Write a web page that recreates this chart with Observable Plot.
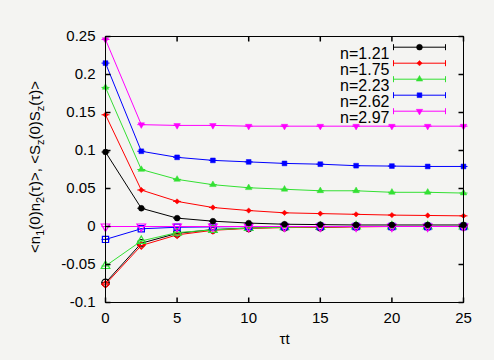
<!DOCTYPE html>
<html>
<head>
<meta charset="utf-8">
<script src="https://cdn.jsdelivr.net/npm/d3@7"></script>
<script src="https://cdn.jsdelivr.net/npm/@observablehq/plot@0.6"></script>
<style>
  html, body { margin: 0; padding: 0; background: #f4f4f2; }
  #chart { width: 494px; height: 360px; }
</style>
</head>
<body>
<div id="chart"></div>
<script>
// ---- data ----
const tau = [0, 2.5, 5, 7.5, 10, 12.5, 15, 17.5, 20, 22.5, 25];
const seriesNames = ["n=1.21", "n=1.75", "n=2.23", "n=2.62", "n=2.97"];
const seriesColors = ["#000000", "#ff0000", "#33e033", "#0000ff", "#ff00ff"];
// upper branch (filled symbols)
const upper121 = [0.098, 0.024, 0.011, 0.007, 0.0045, 0.003, 0.0025, 0.002, 0.002, 0.002, 0.002];
const upper175 = [0.147, 0.048, 0.033, 0.025, 0.021, 0.018, 0.017, 0.016, 0.015, 0.0145, 0.014];
const upper223 = [0.183, 0.075, 0.062, 0.055, 0.051, 0.049, 0.047, 0.047, 0.045, 0.045, 0.044];
const upper262 = [0.215, 0.099, 0.091, 0.087, 0.085, 0.083, 0.082, 0.080, 0.0795, 0.079, 0.079];
const upper297 = [0.246, 0.134, 0.133, 0.133, 0.132, 0.132, 0.132, 0.132, 0.132, 0.132, 0.132];
// lower branch (open symbols)
const lower121 = [-0.074, -0.022, -0.009, -0.004, -0.002, -0.001, -0.001, 0, 0, 0, 0];
const lower175 = [-0.076, -0.025, -0.011, -0.005, -0.0025, -0.0015, -0.001, -0.0005, 0, 0, 0];
const lower223 = [-0.052, -0.019, -0.008, -0.0045, -0.002, -0.001, -0.0005, 0, 0, 0, 0];
const lower262 = [-0.017, -0.003, -0.001, -0.0005, 0, 0, 0, 0, 0, 0, 0];
const lower297 = [0, 0, 0, 0, 0, 0, 0, 0, 0, 0, 0];
const xTicks = [0, 5, 10, 15, 20, 25];
const yTicks = [-0.1, -0.05, 0, 0.05, 0.1, 0.15, 0.2, 0.25];
const xLabel = "τt";

const upperSets = [upper121, upper175, upper223, upper262, upper297];
const lowerSets = [lower121, lower175, lower223, lower262, lower297];

// ---- symbols ----
const sqrt3 = Math.sqrt(3);
const triDown = { draw(ctx, size) {
  const y = -Math.sqrt(size / (sqrt3 * 3));
  ctx.moveTo(0, -y * 2); ctx.lineTo(-sqrt3 * y, y); ctx.lineTo(sqrt3 * y, y); ctx.closePath();
}};
const hcap = { draw(ctx) { ctx.moveTo(-4, 0); ctx.lineTo(4, 0); } };
const legendBar = { draw(ctx) {
  ctx.moveTo(-26, 0); ctx.lineTo(26, 0);
  ctx.moveTo(-26, -3); ctx.lineTo(-26, 3);
  ctx.moveTo(26, -3); ctx.lineTo(26, 3);
}};
const tickRight = { draw(ctx) { ctx.moveTo(0, 0); ctx.lineTo(5, 0); } };
const tickLeft = { draw(ctx) { ctx.moveTo(0, 0); ctx.lineTo(-5, 0); } };
const tickUp = { draw(ctx) { ctx.moveTo(0, 0); ctx.lineTo(0, -5); } };
const tickDown = { draw(ctx) { ctx.moveTo(0, 0); ctx.lineTo(0, 5); } };
const seriesSymbols = ["circle", "diamond2", "triangle", "square", triDown];
const seriesR = [2.9, 2.4, 2.4, 2.7, 2.4];

const rows = [];
seriesNames.forEach((name, i) => {
  tau.forEach((t, j) => {
    rows.push({series: name, i, branch: "upper", t, v: upperSets[i][j]});
    rows.push({series: name, i, branch: "lower", t, v: lowerSets[i][j]});
  });
});

const marks = [];
// lower branch first, then upper
for (const branch of ["lower", "upper"]) {
  seriesNames.forEach((name, i) => {
    const d = rows.filter(r => r.series === name && r.branch === branch);
    const c = seriesColors[i];
    marks.push(Plot.line(d, {x: "t", y: "v", stroke: c, strokeWidth: 1}));
    marks.push(Plot.dot(d, {x: "t", y: "v", symbol: hcap, r: 3, stroke: c, fill: "none", strokeWidth: 1}));
    if (branch === "upper") {
      marks.push(Plot.dot(d, {x: "t", y: "v", symbol: seriesSymbols[i], r: seriesR[i], fill: c, stroke: c, strokeWidth: 0.5}));
    } else {
      marks.push(Plot.dot(d, {x: "t", y: "v", symbol: seriesSymbols[i], r: seriesR[i] + 0.8, fill: "none", stroke: c, strokeWidth: 1.2}));
    }
  });
}

// inward ticks on all four sides
marks.push(Plot.dot(yTicks, {y: d => d, frameAnchor: "left", symbol: tickRight, stroke: "#000", fill: "none"}));
marks.push(Plot.dot(yTicks, {y: d => d, frameAnchor: "right", symbol: tickLeft, stroke: "#000", fill: "none"}));
marks.push(Plot.dot(xTicks, {x: d => d, frameAnchor: "bottom", symbol: tickUp, stroke: "#000", fill: "none"}));
marks.push(Plot.dot(xTicks, {x: d => d, frameAnchor: "top", symbol: tickDown, stroke: "#000", fill: "none"}));

// legend (inside the frame, top right)
seriesNames.forEach((name, i) => {
  const dy = 10.7 + 16 * i;
  marks.push(Plot.text([name], {text: d => d, frameAnchor: "top-right", dx: -74, dy, textAnchor: "end", fontSize: 16, fill: "#000"}));
  marks.push(Plot.dot([name], {frameAnchor: "top-right", dx: -44, dy, symbol: legendBar, stroke: seriesColors[i], fill: "none", strokeWidth: 1}));
  marks.push(Plot.dot([name], {frameAnchor: "top-right", dx: -44, dy, symbol: seriesSymbols[i], r: seriesR[i], fill: seriesColors[i], stroke: seriesColors[i], strokeWidth: 0.5}));
});

marks.push(Plot.frame({stroke: "#000", strokeWidth: 1}));
marks.push(Plot.axisY({ticks: yTicks, tickSize: 0, tickPadding: 10, label: null, fontSize: 15,
  tickFormat: d => String(+d.toFixed(2))}));
marks.push(Plot.axisX({ticks: xTicks, tickSize: 0, tickPadding: 10, label: null, fontSize: 15,
  tickFormat: d => String(d)}));
marks.push(Plot.text([xLabel], {text: d => d, frameAnchor: "bottom", dy: 41, fontSize: 15, fill: "#000"}));

const svg = Plot.plot({
  width: 494,
  height: 360,
  marginLeft: 105,
  marginRight: 31,
  marginTop: 36,
  marginBottom: 58,
  style: {background: "#f4f4f2", fontFamily: "'Liberation Sans', Arial, sans-serif", fontSize: "15px", color: "#000"},
  x: {domain: [0, 25]},
  y: {domain: [-0.1, 0.25]},
  marks
});

// y-axis label with subscripts
const yl = d3.select(svg).append("text")
  .attr("transform", "translate(40,167) rotate(-90)")
  .attr("text-anchor", "middle")
  .attr("font-size", 15)
  .attr("fill", "#000");
const parts = [["<n", false], ["1", true], ["(0)n", false], ["2", true], ["(τ)>, <S", false], ["z", true], ["(0)S", false], ["z", true], ["(τ)>", false]];
let shifted = false;
parts.forEach(([t, sub]) => {
  const dy = sub ? 4 : (shifted ? -4 : null);
  yl.append("tspan").attr("dy", dy).attr("font-size", sub ? 11 : null).text(t);
  shifted = sub;
});

document.getElementById("chart").appendChild(svg);
</script>
</body>
</html>
